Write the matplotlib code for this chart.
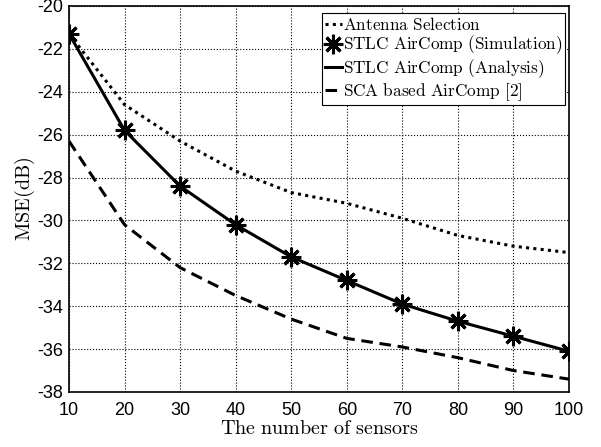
import matplotlib
matplotlib.use("Agg")
import matplotlib.pyplot as plt

plt.rcParams['mathtext.fontset'] = 'cm'
plt.rcParams['font.family'] = ['Liberation Sans', 'DejaVu Sans']

sensors = [10, 20, 30, 40, 50, 60, 70, 80, 90, 100]
mse_antenna = [-21.3, -24.6, -26.3, -27.7, -28.7, -29.2, -29.9, -30.7, -31.2, -31.5]
mse_stlc_sim = [-21.3, -25.8, -28.4, -30.2, -31.7, -32.8, -33.9, -34.7, -35.4, -36.1]
mse_stlc_ana = [-21.3, -25.8, -28.4, -30.2, -31.7, -32.8, -33.9, -34.7, -35.4, -36.1]
mse_sca = [-26.3, -30.2, -32.2, -33.5, -34.6, -35.5, -35.9, -36.4, -37.0, -37.4]
y_ticks = [-38, -36, -34, -32, -30, -28, -26, -24, -22, -20]

labels = [r'$\mathrm{Antenna\ Selection}$',
          r'$\mathrm{STLC\ AirComp\ (Simulation)}$',
          r'$\mathrm{STLC\ AirComp\ (Analysis)}$',
          r'$\mathrm{SCA\ based\ AirComp\ [2]}$']

fig = plt.figure(figsize=(6.01, 4.47), dpi=100)
ax = fig.add_axes([69/601, 1-392/447, 500/601, 386/447])

ax.plot(sensors, mse_antenna, color='k', lw=2.2, linestyle=(0, (1, 1.4)), label=labels[0])
ax.plot(sensors, mse_stlc_sim, color='k', lw=0, marker=(8, 2, 0), markersize=14,
        markeredgewidth=2.2, label=labels[1])
ax.plot(sensors, mse_stlc_ana, color='k', lw=2.2, label=labels[2])
ax.plot(sensors, mse_sca, color='k', lw=2.2, linestyle=(0, (3.8, 2.2)), label=labels[3])

ax.set_xlim(10, 100)
ax.set_ylim(-38, -20)
ax.set_xticks(sensors)
ax.set_xticklabels([str(v) for v in sensors])
ax.set_yticks(y_ticks)
ax.set_yticklabels([str(v) for v in y_ticks])
ax.tick_params(labelsize=13, direction='in', length=0)
ax.tick_params(axis='x', pad=7)
ax.tick_params(axis='y', pad=4)
ax.grid(True, color='k', linestyle=':', linewidth=0.8)
for s in ax.spines.values():
    s.set_linewidth(1.2)

ax.set_xlabel(r'$\mathrm{The\ number\ of\ sensors}$', fontsize=14.5, labelpad=0)
ax.set_ylabel(r'$\mathrm{MSE(dB)}$', fontsize=14.5, labelpad=0)

leg = ax.legend(loc='upper right', bbox_to_anchor=(0.992, 0.981),
                fontsize=12.4, handlelength=1.0, handletextpad=0.05, borderpad=0.15,
                labelspacing=0.05, fancybox=False, framealpha=1, borderaxespad=0)
leg.get_frame().set_edgecolor('k')
leg.get_frame().set_linewidth(0.8)

fig.savefig('out.png', dpi=100)
